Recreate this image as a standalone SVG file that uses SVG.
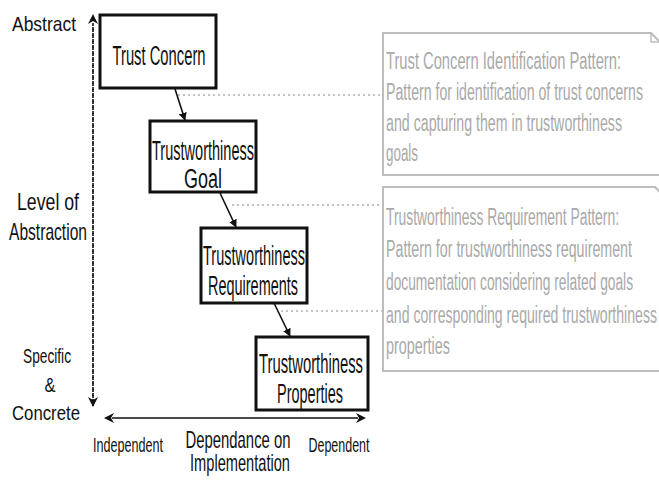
<svg xmlns="http://www.w3.org/2000/svg" width="659" height="480" viewBox="0 0 659 480">
<style>
text{font-family:"Liberation Sans",Arial,sans-serif;fill:#111}
.node{fill:#fff;stroke:#111;stroke-width:3}
.nt{font-size:28px;text-anchor:middle}
.lbl{font-size:21px;text-anchor:middle}
.big{font-size:23px;text-anchor:middle}
.note{fill:#fff;stroke:#bdbdbd;stroke-width:2}
.ntxt{font-size:23px;fill:#a9a9a9}
.axis{stroke:#111;stroke-width:1.6;stroke-dasharray:3 3;fill:none}
.dot{stroke:#b0b0b0;stroke-width:1.6;stroke-dasharray:2 3;fill:none}
.arr{stroke:#111;stroke-width:1.6;fill:none;marker-end:url(#ah)}
</style>
<defs>
<marker id="ah" viewBox="0 0 10 10" refX="9" refY="5" markerWidth="8" markerHeight="8" markerUnits="userSpaceOnUse" orient="auto"><path d="M0,0 L10,5 L0,10 Z" fill="#111"/></marker>
<marker id="ax" viewBox="0 0 10 10" refX="9" refY="5" markerWidth="10" markerHeight="10" markerUnits="userSpaceOnUse" orient="auto"><path d="M0,0 L10,5 L0,10 L3,5 Z" fill="#111"/></marker>
</defs>
<rect width="659" height="480" fill="#fff"/>

<g id="axes">
<line class="axis" x1="93" y1="404" x2="93" y2="15" marker-end="url(#ax)"/>
<line class="axis" x1="93" y1="27" x2="93" y2="406" marker-end="url(#ax)"/>
<line class="axis" x1="115" y1="418" x2="365" y2="418" marker-end="url(#ax)"/>
<line class="axis" x1="355" y1="418" x2="105" y2="418" marker-end="url(#ax)"/>
</g>

<g id="axis-labels">
<text class="lbl" transform="translate(44,31) scale(0.75,1)" font-size="19" textLength="85.3" lengthAdjust="spacingAndGlyphs">Abstract</text>
<text class="big" transform="translate(48,210) scale(0.75,1)" textLength="82.7" lengthAdjust="spacingAndGlyphs">Level of</text>
<text class="big" transform="translate(48,240) scale(0.75,1)" textLength="104" lengthAdjust="spacingAndGlyphs">Abstraction</text>
<text class="lbl" transform="translate(47,363) scale(0.75,1)" textLength="64" lengthAdjust="spacingAndGlyphs">Specific</text>
<text class="lbl" transform="translate(50,392) scale(0.75,1)" textLength="14.7" lengthAdjust="spacingAndGlyphs">&amp;</text>
<text class="lbl" transform="translate(46,420) scale(0.75,1)" textLength="90.7" lengthAdjust="spacingAndGlyphs">Concrete</text>
<text class="lbl" transform="translate(128,452) scale(0.75,1)" textLength="93.3" lengthAdjust="spacingAndGlyphs">Independent</text>
<text class="big" transform="translate(238,448) scale(0.75,1)" textLength="140" lengthAdjust="spacingAndGlyphs">Dependance on</text>
<text class="big" transform="translate(240,471) scale(0.75,1)" textLength="133.3" lengthAdjust="spacingAndGlyphs">Implementation</text>
<text class="lbl" transform="translate(339,452) scale(0.75,1)" textLength="81.3" lengthAdjust="spacingAndGlyphs">Dependent</text>
</g>

<g id="connectors">
<line class="dot" x1="178" y1="95" x2="383" y2="95"/>
<line class="dot" x1="232" y1="205" x2="383" y2="205"/>
<line class="dot" x1="281" y1="311" x2="383" y2="311"/>
<line class="arr" x1="175" y1="89" x2="185" y2="120"/>
<line class="arr" x1="220" y1="193" x2="236" y2="227"/>
<line class="arr" x1="274" y1="303" x2="290" y2="336"/>
</g>

<g id="trust-concern">
<rect class="node" x="100" y="15" width="116" height="73"/>
<text class="nt" transform="translate(159,65) scale(0.65,1)" textLength="143.1" lengthAdjust="spacingAndGlyphs">Trust Concern</text>
</g>
<g id="trustworthiness-goal">
<rect class="node" x="150" y="121" width="106" height="71"/>
<text class="nt" transform="translate(203,160) scale(0.65,1)" textLength="156.9" lengthAdjust="spacingAndGlyphs">Trustworthiness</text>
<text class="nt" transform="translate(203,188) scale(0.65,1)" textLength="58.5" lengthAdjust="spacingAndGlyphs">Goal</text>
</g>
<g id="trustworthiness-requirements">
<rect class="node" x="201" y="228" width="106" height="75"/>
<text class="nt" transform="translate(254,265) scale(0.65,1)" textLength="156.9" lengthAdjust="spacingAndGlyphs">Trustworthiness</text>
<text class="nt" transform="translate(253,295) scale(0.65,1)" textLength="138.5" lengthAdjust="spacingAndGlyphs">Requirements</text>
</g>
<g id="trustworthiness-properties">
<rect class="node" x="256" y="337" width="112" height="73"/>
<text class="nt" transform="translate(311,373) scale(0.65,1)" textLength="160" lengthAdjust="spacingAndGlyphs">Trustworthiness</text>
<text class="nt" transform="translate(310,403) scale(0.65,1)" textLength="101.5" lengthAdjust="spacingAndGlyphs">Properties</text>
</g>

<g id="note-trust-concern-pattern">
<path class="note" d="M383,33 H651 L660,42 V175 H383 Z"/>
<path d="M651,33 V42 H660" fill="none" stroke="#bdbdbd" stroke-width="1.5"/>
<g transform="translate(386,0) scale(0.58,1)">
<text class="ntxt" x="0" y="69" textLength="405.2" lengthAdjust="spacingAndGlyphs">Trust Concern Identification Pattern:</text>
<text class="ntxt" x="0" y="100" textLength="443.1" lengthAdjust="spacingAndGlyphs">Pattern for identification of trust concerns</text>
<text class="ntxt" x="0" y="131" textLength="406.9" lengthAdjust="spacingAndGlyphs">and capturing them in trustworthiness</text>
<text class="ntxt" x="0" y="161" textLength="55.2" lengthAdjust="spacingAndGlyphs">goals</text>
</g>
</g>
<g id="note-requirement-pattern">
<path class="note" d="M383,187 H655 L660,192 V371 H383 Z"/>
<g transform="translate(386,0) scale(0.58,1)">
<text class="ntxt" x="0" y="225" textLength="401.7" lengthAdjust="spacingAndGlyphs">Trustworthiness Requirement Pattern:</text>
<text class="ntxt" x="0" y="257" textLength="424.1" lengthAdjust="spacingAndGlyphs">Pattern for trustworthiness requirement</text>
<text class="ntxt" x="0" y="290" textLength="425.9" lengthAdjust="spacingAndGlyphs">documentation considering related goals</text>
<text class="ntxt" x="0" y="323" textLength="467.2" lengthAdjust="spacingAndGlyphs">and corresponding required trustworthiness</text>
<text class="ntxt" x="0" y="354" textLength="110.3" lengthAdjust="spacingAndGlyphs">properties</text>
</g>
</g>
</svg>
